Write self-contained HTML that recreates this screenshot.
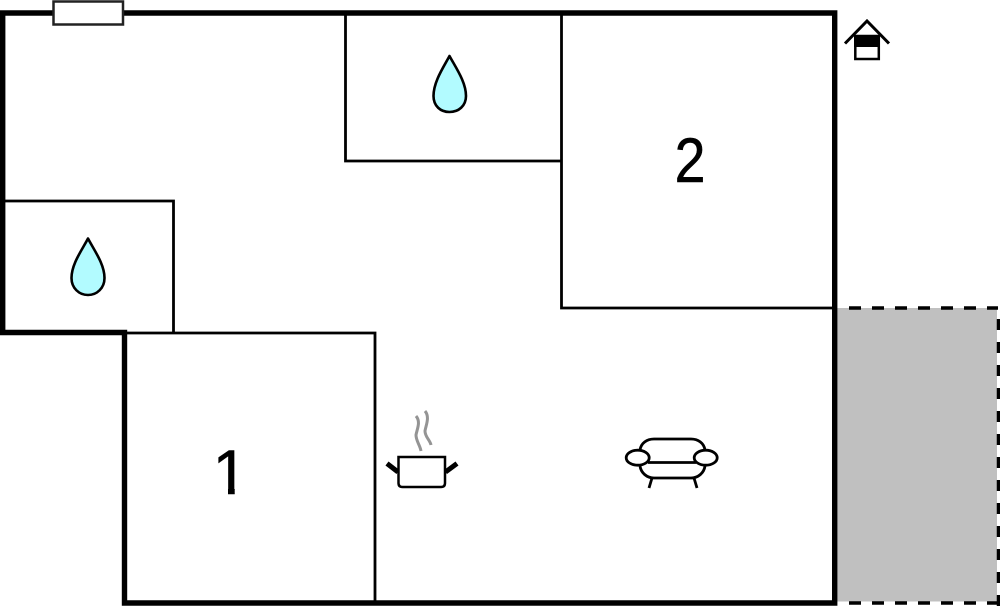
<!DOCTYPE html>
<html><head><meta charset="utf-8"><style>html,body{margin:0;padding:0;background:#fff}svg{display:block}</style></head><body>
<svg width="1000" height="606" viewBox="0 0 1000 606" xmlns="http://www.w3.org/2000/svg">
<defs><clipPath id="c"><path d="M200 440H260V488.800H234.700V500H228V488.800H200Z"/></clipPath></defs>
<rect x="835" y="308" width="162" height="293.500" fill="#c0c0c0"/>
<path d="M849 308H998M849 603H998" fill="none" stroke="#000" stroke-width="3.600" stroke-dasharray="12 11"/>
<path d="M998.500 319V606" fill="none" stroke="#000" stroke-width="3.500" stroke-dasharray="11 12"/>
<g fill="none" stroke="#000" stroke-width="2.800">
<path d="M345.500 13V161H562"/><path d="M561.500 13V308H835"/>
<path d="M3 201H173.500V333"/><path d="M124 333H375V603"/>
</g>
<path d="M2.700 13H834.700V603H124.500V332.500H2.700Z" fill="none" stroke="#000" stroke-width="5.400"/>
<rect x="53.500" y="1.500" width="69.500" height="23" fill="#fff" stroke="#222" stroke-width="2.500"/>
<path d="M449.500 56C456 68 466 82 466 96C466 106 458.500 112 449.500 112C440.500 112 433.500 106 433.500 96C433.500 82 443 68 449.500 56Z" fill="#b2fbff" stroke="#000" stroke-width="2.600" stroke-linejoin="round"/>
<path d="M88 238.500C94 250 104.500 264 104.500 278C104.500 288 97 295 88 295C79 295 71.500 288 71.500 278C71.500 264 82 250 88 238.500Z" fill="#b2fbff" stroke="#000" stroke-width="2.600" stroke-linejoin="round"/>
<text transform="translate(690 182) scale(.88 1)" font-family="Liberation Sans, sans-serif" font-size="63" text-anchor="middle" fill="#000" stroke="#000" stroke-width=".6">2</text>
<text x="230.200" y="494" clip-path="url(#c)" font-family="Liberation Sans, sans-serif" font-size="63" text-anchor="middle" fill="#000" stroke="#000" stroke-width=".6">1</text>
<path d="M845 43.500L867 21L889 43.500" fill="none" stroke="#000" stroke-width="3"/>
<rect x="855.300" y="36" width="23.500" height="23" fill="#fff" stroke="#000" stroke-width="2.500"/>
<rect x="854" y="35" width="26" height="12" fill="#000"/>
<g fill="none" stroke="#000">
<path d="M398.500 457H445V483Q445 487 441 487H402.500Q398.500 487 398.500 483Z" stroke-width="2.500"/>
<path d="M387 463.500L398 472M457 463.500L445.500 472" stroke-width="5"/>
<path d="M416 416C421 422 417 429 416 435C416 441 420 445 421 451M425 411C430 417 426 425 425 431C425 437 430 440 431 445" stroke="#949494" stroke-width="3"/>
<path d="M640 450C641 443 647 439 654 439H691C698 439 704 443 705 450M640 466C641 473 647 478 654 478H691C698 478 704 473 705 466M648 462.500H696M652 478L649 488M694 478L697 488" stroke-width="2.800"/>
<ellipse cx="637.700" cy="457.700" rx="11.500" ry="7.500" stroke-width="2.800"/>
<ellipse cx="705.700" cy="457.700" rx="11.500" ry="7.500" stroke-width="2.800"/>
</g>
</svg>
</body></html>
